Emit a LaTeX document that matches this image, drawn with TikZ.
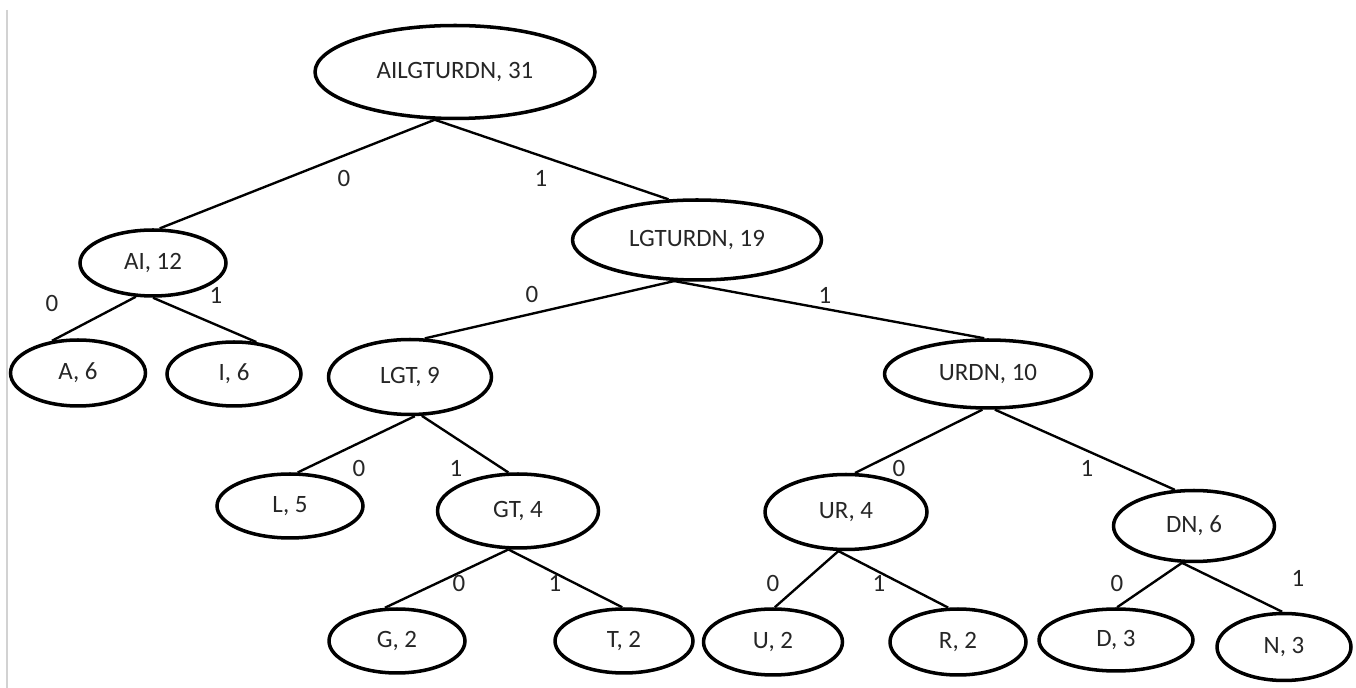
\documentclass[tikz,border=0pt]{standalone}
\usepackage{fontspec}
\setmainfont{Carlito}
\usetikzlibrary{shapes.geometric}

\begin{document}
\begin{tikzpicture}[x=0.02cm, y=-0.02cm,
  nd/.style 2 args={ellipse, draw=black, line width=2pt, inner sep=0pt,
    minimum width=#1, minimum height=#2, text=black!85,
    font=\fontsize{14.2}{16}\selectfont},
  bit/.style={text=black!85, inner sep=0pt, font=\fontsize{14.2}{16}\selectfont},
  br/.style={line width=1.35pt}]

  % --- 0. 枠 ---
  \useasboundingbox (0,0) rectangle (1356,688);
  \draw[gray!35, line width=1pt] (7,10) -- (7,688);

  % --- 1. 根と第 1 段 ---
  \node[nd={5.6cm}{1.86cm}] (ailgturdn) at (455,72) {AILGTURDN, 31};
  \node[nd={2.92cm}{1.32cm}] (ai) at (153,263) {AI, 12};
  \node[nd={4.98cm}{1.6cm}] (lgturdn) at (697,240) {LGTURDN, 19};

  % --- 2. 第 2 段 ---
  \node[nd={2.7cm}{1.32cm}] (a) at (78,373) {A, 6};
  \node[nd={2.68cm}{1.28cm}] (i) at (234,374) {I, 6};
  \node[nd={3.26cm}{1.5cm}] (lgt) at (410,377) {LGT, 9};
  \node[nd={4.14cm}{1.36cm}] (urdn) at (988,374) {URDN, 10};

  % --- 3. 第 3 段 ---
  \node[nd={2.92cm}{1.28cm}] (l) at (290,506) {L, 5};
  \node[nd={3.22cm}{1.48cm}] (gt) at (518,511) {GT, 4};
  \node[nd={3.24cm}{1.5cm}] (ur) at (846,512) {UR, 4};
  \node[nd={3.22cm}{1.42cm}] (dn) at (1194,526) {DN, 6};

  % --- 4. 葉 ---
  \node[nd={2.72cm}{1.28cm}] (g) at (397,641) {G, 2};
  \node[nd={2.76cm}{1.28cm}] (t) at (624,641) {T, 2};
  \node[nd={2.78cm}{1.32cm}] (u) at (773,642) {U, 2};
  \node[nd={2.72cm}{1.32cm}] (r) at (958,642) {R, 2};
  \node[nd={3.08cm}{1.24cm}] (d) at (1116,640) {D, 3};
  \node[nd={2.68cm}{1.34cm}] (n) at (1284,647) {N, 3};

  % --- 5. 枝 ---
  \draw[br] (ailgturdn.247) -- (ai.79);
  \draw[br] (ailgturdn.247) -- (lgturdn.125);
  \draw[br] (ai.243) -- (a.129);
  \draw[br] (ai.270) -- (i.55);
  \draw[br] (lgturdn.241) -- (lgt.69);
  \draw[br] (lgturdn.241) -- (urdn.96);
  \draw[br] (lgt.277) -- (l.77);
  \draw[br] (lgt.287) -- (gt.104);
  \draw[br] (urdn.261) -- (ur.77);
  \draw[br] (urdn.281) -- (dn.118);
  \draw[br] (gt.256) -- (g.110);
  \draw[br] (gt.256) -- (t.93);
  \draw[br] (ur.259) -- (u.87);
  \draw[br] (ur.259) -- (r.106);
  \draw[br] (dn.252) -- (d.88);
  \draw[br] (dn.252) -- (n.93);

  % --- 6. 符号 (0 / 1) ---
  \node[bit] (c-ai) at (344,178) {0};
  \node[bit] (c-lgturdn) at (541,178) {1};
  \node[bit] (c-a) at (52,303) {0};
  \node[bit] (c-i) at (216,295) {1};
  \node[bit] (c-lgt) at (532,294) {0};
  \node[bit] (c-urdn) at (825,295) {1};
  \node[bit] (c-l) at (359,468) {0};
  \node[bit] (c-gt) at (456,468) {1};
  \node[bit] (c-ur) at (899,468) {0};
  \node[bit] (c-dn) at (1087,468) {1};
  \node[bit] (c-g) at (459,583) {0};
  \node[bit] (c-t) at (555,583) {1};
  \node[bit] (c-u) at (773,583) {0};
  \node[bit] (c-r) at (879,583) {1};
  \node[bit] (c-d) at (1117,583) {0};
  \node[bit] (c-n) at (1298,578) {1};

\end{tikzpicture}
\end{document}
